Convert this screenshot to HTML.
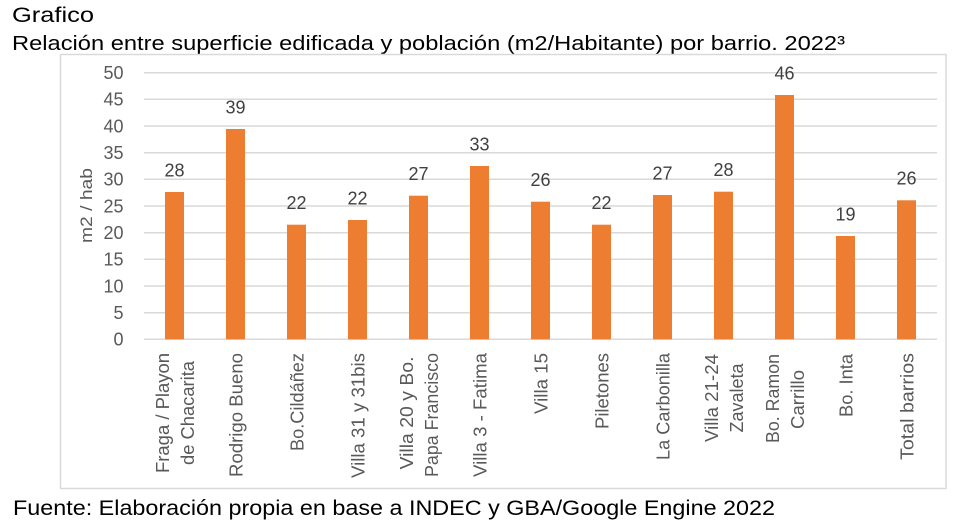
<!DOCTYPE html>
<html><head><meta charset="utf-8"><style>
html,body{margin:0;padding:0;background:#fff;}
svg{display:block;}
</style></head><body>
<svg width="954" height="530" viewBox="0 0 954 530" xmlns="http://www.w3.org/2000/svg" font-family="'Liberation Sans', Arial, sans-serif">
<rect x="0" y="0" width="954" height="530" fill="#fff"/>
<text x="12" y="22" font-size="21" fill="#000" textLength="82" lengthAdjust="spacingAndGlyphs">Grafico</text>
<text x="12" y="50" font-size="20" fill="#000" textLength="833" lengthAdjust="spacingAndGlyphs">Relación entre superficie edificada y población (m2/Habitante) por barrio. 2022³</text>
<rect x="60.5" y="54.5" width="885.5" height="434" fill="#fff" stroke="#D9D9D9" stroke-width="1.5"/>
<g stroke="#D9D9D9" stroke-width="1.5">
<line x1="144" x2="937" y1="72.7" y2="72.7"/>
<line x1="144" x2="937" y1="99.3" y2="99.3"/>
<line x1="144" x2="937" y1="126" y2="126"/>
<line x1="144" x2="937" y1="152.7" y2="152.7"/>
<line x1="144" x2="937" y1="179.3" y2="179.3"/>
<line x1="144" x2="937" y1="206" y2="206"/>
<line x1="144" x2="937" y1="232.7" y2="232.7"/>
<line x1="144" x2="937" y1="259.3" y2="259.3"/>
<line x1="144" x2="937" y1="286" y2="286"/>
<line x1="144" x2="937" y1="312.7" y2="312.7"/>
<line x1="144" x2="937" y1="339.3" y2="339.3"/>
</g>
<g font-size="18" fill="#595959" text-anchor="end">
<text x="123.5" y="79">50</text>
<text x="123.5" y="105.6">45</text>
<text x="123.5" y="132.3">40</text>
<text x="123.5" y="159">35</text>
<text x="123.5" y="185.6">30</text>
<text x="123.5" y="212.3">25</text>
<text x="123.5" y="239">20</text>
<text x="123.5" y="265.6">15</text>
<text x="123.5" y="292.3">10</text>
<text x="123.5" y="319">5</text>
<text x="123.5" y="345.6">0</text>
</g>
<text transform="translate(92,205.5) rotate(-90)" font-size="17" fill="#595959" text-anchor="middle" textLength="75" lengthAdjust="spacingAndGlyphs">m2 / hab</text>
<g fill="#ED7D31">
<rect x="165" y="192" width="19" height="147.3"/>
<rect x="226" y="129" width="19" height="210.3"/>
<rect x="287" y="224.7" width="19" height="114.6"/>
<rect x="348" y="220" width="19" height="119.3"/>
<rect x="409" y="195.7" width="19" height="143.6"/>
<rect x="470" y="166" width="19" height="173.3"/>
<rect x="531" y="201.7" width="19" height="137.6"/>
<rect x="592" y="224.7" width="19" height="114.6"/>
<rect x="653" y="195" width="19" height="144.3"/>
<rect x="714" y="191.7" width="19" height="147.6"/>
<rect x="775" y="95" width="19" height="244.3"/>
<rect x="836" y="236" width="19" height="103.3"/>
<rect x="897" y="200.3" width="19" height="139"/>
</g>
<g font-size="18" fill="#404040" text-anchor="middle">
<text x="174.5" y="176.3">28</text>
<text x="235.5" y="113.3">39</text>
<text x="296.5" y="209">22</text>
<text x="357.5" y="204.3">22</text>
<text x="418.5" y="180">27</text>
<text x="479.5" y="150.3">33</text>
<text x="540.5" y="186">26</text>
<text x="601.5" y="209">22</text>
<text x="662.5" y="179.3">27</text>
<text x="723.5" y="176">28</text>
<text x="784.5" y="79.3">46</text>
<text x="845.5" y="220.3">19</text>
<text x="906.5" y="184.6">26</text>
</g>
<g font-size="18" fill="#595959" text-anchor="middle">
<text transform="translate(169,413) rotate(-90)" textLength="120" lengthAdjust="spacingAndGlyphs">Fraga / Playon</text>
<text transform="translate(194,413) rotate(-90)" textLength="104" lengthAdjust="spacingAndGlyphs">de Chacarita</text>
<text transform="translate(242.5,415) rotate(-90)" textLength="124" lengthAdjust="spacingAndGlyphs">Rodrigo Bueno</text>
<text transform="translate(303.5,402) rotate(-90)" textLength="98" lengthAdjust="spacingAndGlyphs">Bo.Cildáñez</text>
<text transform="translate(364.5,415.5) rotate(-90)" textLength="125" lengthAdjust="spacingAndGlyphs">Villa 31 y 31bis</text>
<text transform="translate(413,413) rotate(-90)" textLength="113" lengthAdjust="spacingAndGlyphs">Villa 20 y Bo.</text>
<text transform="translate(438,415) rotate(-90)" textLength="124" lengthAdjust="spacingAndGlyphs">Papa Francisco</text>
<text transform="translate(486.5,415) rotate(-90)" textLength="124" lengthAdjust="spacingAndGlyphs">Villa 3 - Fatima</text>
<text transform="translate(547.5,383.5) rotate(-90)" textLength="61" lengthAdjust="spacingAndGlyphs">Villa 15</text>
<text transform="translate(608.5,391) rotate(-90)" textLength="76" lengthAdjust="spacingAndGlyphs">Piletones</text>
<text transform="translate(669.5,406.5) rotate(-90)" textLength="107" lengthAdjust="spacingAndGlyphs">La Carbonilla</text>
<text transform="translate(718,398) rotate(-90)" textLength="88" lengthAdjust="spacingAndGlyphs">Villa 21-24</text>
<text transform="translate(743,398) rotate(-90)" textLength="69" lengthAdjust="spacingAndGlyphs">Zavaleta</text>
<text transform="translate(779,398.5) rotate(-90)" textLength="89" lengthAdjust="spacingAndGlyphs">Bo. Ramon</text>
<text transform="translate(804,399.5) rotate(-90)" textLength="59" lengthAdjust="spacingAndGlyphs">Carrillo</text>
<text transform="translate(852.5,385.5) rotate(-90)" textLength="63" lengthAdjust="spacingAndGlyphs">Bo. Inta</text>
<text transform="translate(913.5,406.5) rotate(-90)" textLength="107" lengthAdjust="spacingAndGlyphs">Total barrios</text>
</g>
<text x="13" y="515" font-size="21" fill="#000" textLength="762" lengthAdjust="spacingAndGlyphs">Fuente: Elaboración propia en base a INDEC y GBA/Google Engine 2022</text>
</svg>
</body></html>
